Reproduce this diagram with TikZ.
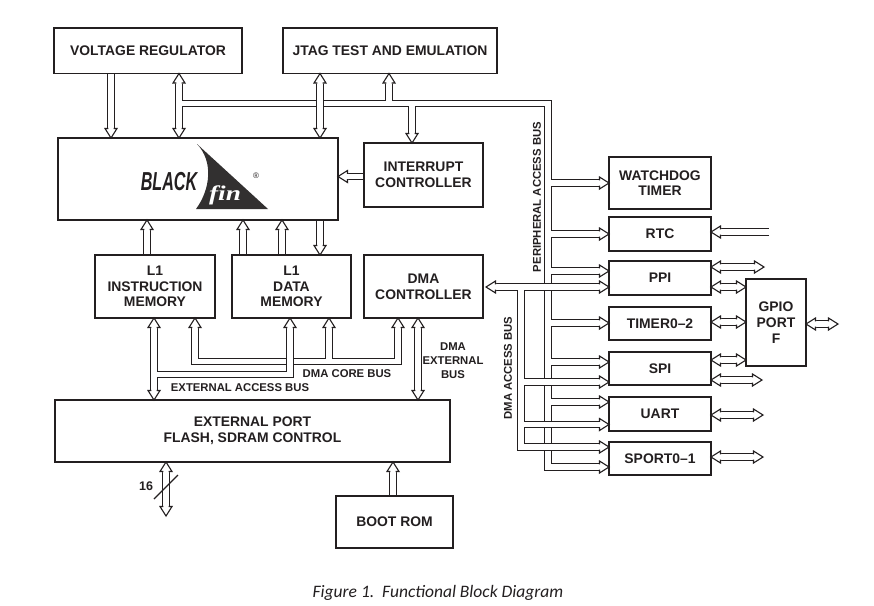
\documentclass[tikz,border=0pt]{standalone}
\usepackage{fontspec}
\setmainfont{Liberation Sans}
\newfontfamily\capfont{Carlito}
\newfontfamily\finfont{Liberation Serif}
\usetikzlibrary{calc}
\definecolor{ink}{RGB}{35,31,32}
\definecolor{fincol}{RGB}{50,48,48}
\tikzset{
  box/.style={rectangle, inner sep=0pt, outer sep=0pt, align=center, text=ink,
              font=\fontsize{13.9}{15.7}\selectfont\bfseries},
  boxline/.style={draw=ink, line width=1.2pt},
  lbl/.style={inner sep=0pt, text=ink, align=center, font=\fontsize{11.3}{14}\selectfont\bfseries},
  bo/.style={draw=ink, line width=7.6pt, line join=miter, line cap=butt},
  bi/.style={draw=white, line width=5.4pt, line join=miter, line cap=butt},
  bpass/.style={},
  tipE/.style={shorten >=9.5pt},
  tipB/.style={shorten >=9.5pt, shorten <=9.5pt},
  hd/.style={draw=ink, line width=1.1pt, line join=miter, line cap=butt},
  hR/.pic={\fill[white] (0,0)--(-10,-6.3)--(-10,6.3)--cycle;
           \draw[hd] (-9.5,-2.7)--(-9.5,-6)--(0,0)--(-9.5,6)--(-9.5,2.7);},
  hL/.pic={\fill[white] (0,0)--(10,-6.3)--(10,6.3)--cycle;
           \draw[hd] (9.5,-2.7)--(9.5,-6)--(0,0)--(9.5,6)--(9.5,2.7);},
  hD/.pic={\fill[white] (0,0)--(-6.3,-10)--(6.3,-10)--cycle;
           \draw[hd] (-2.7,-9.5)--(-6,-9.5)--(0,0)--(6,-9.5)--(2.7,-9.5);},
  hU/.pic={\fill[white] (0,0)--(-6.3,10)--(6.3,10)--cycle;
           \draw[hd] (-2.7,9.5)--(-6,9.5)--(0,0)--(6,9.5)--(2.7,9.5);},
}
% ---------- lower layer of buses and arrows ----------
\newcommand\layerA{%
  \draw[bpass,tipE] (111,0 |- vr.south) -- (111,0 |- bf.north);
  \draw[bpass,tipB] (179,0 |- vr.south) -- (179,0 |- bf.north);
  \draw[bpass,tipE] (179,103.5) -- (548,103.5) -- (548,467) -- (sport.west |- 0,467);
  \draw[bpass,tipE] (389,103.5) -- (389,0 |- jtag.south);
  \draw[bpass,tipE] (412,103.5) -- (412,0 |- ic.north);
  \foreach \yy/\nn in {183/wd,234/rtc,271/ppi,323/tmr,362/spi,402/uart}
    \draw[bpass,tipE] (548,\yy) -- (\nn.west |- 0,\yy);
  \draw[bpass,tipE] (ic.west |- 0,176.5) -- (bf.east |- 0,176.5);
  \draw[bpass,tipE] (147,0 |- l1i.north) -- (147,0 |- bf.south);
  \foreach \xx in {243,282}
    \draw[bpass,tipE] (\xx,0 |- l1d.north) -- (\xx,0 |- bf.south);
  \draw[bpass,tipE] (320,0 |- bf.south) -- (320,0 |- l1d.north);
  \draw[bpass,tipB] (195,0 |- l1i.south) -- (195,361.5) -- (398,361.5) -- (398,0 |- dma.south);
  \draw[bpass,tipE] (329,361.5) -- (329,0 |- l1d.south);
  \draw[bpass,tipB] (418,0 |- dma.south) -- (418,0 |- ep.north);
  \draw[bpass,tipB] (166,0 |- ep.south) -- (166,516);
  \draw[bpass,tipE] (393,0 |- boot.north) -- (393,0 |- ep.south);
  \draw[bpass,tipE] (769,232) -- (rtc.east |- 0,232);
  \draw[bpass,tipB] (ppi.east |- 0,267) -- (764,267);
  \draw[bpass,tipB] (ppi.east |- 0,287) -- (gpio.west |- 0,287);
  \draw[bpass,tipB] (tmr.east |- 0,322) -- (gpio.west |- 0,322);
  \draw[bpass,tipB] (gpio.east |- 0,324) -- (838,324);
  \draw[bpass,tipB] (spi.east |- 0,360) -- (gpio.west |- 0,360);
  \draw[bpass,tipB] (spi.east |- 0,380) -- (762,380);
  \draw[bpass,tipB] (uart.east |- 0,415) -- (763,415);
  \draw[bpass,tipB] (sport.east |- 0,457) -- (763,457);
}
\newcommand\headsA{%
  \pic at (111,0 |- bf.north) {hD};
  \pic at (179,0 |- vr.south) {hU};
  \pic at (179,0 |- bf.north) {hD};
  \pic at (sport.west |- 0,467) {hR};
  \pic at (389,0 |- jtag.south) {hU};
  \pic at (412,0 |- ic.north) {hD};
  \foreach \yy/\nn in {183/wd,234/rtc,271/ppi,323/tmr,362/spi,402/uart}
    \pic at (\nn.west |- 0,\yy) {hR};
  \pic at (bf.east |- 0,176.5) {hL};
  \pic at (147,0 |- bf.south) {hU};
  \foreach \xx in {243,282} \pic at (\xx,0 |- bf.south) {hU};
  \pic at (320,0 |- l1d.north) {hD};
  \pic at (195,0 |- l1i.south) {hU};
  \pic at (398,0 |- dma.south) {hU};
  \pic at (329,0 |- l1d.south) {hU};
  \pic at (418,0 |- dma.south) {hU};
  \pic at (418,0 |- ep.north) {hD};
  \pic at (166,0 |- ep.south) {hU};
  \pic at (166,516) {hD};
  \pic at (393,0 |- ep.south) {hU};
  \pic at (rtc.east |- 0,232) {hL};
  \pic at (ppi.east |- 0,267) {hL}; \pic at (764,267) {hR};
  \pic at (ppi.east |- 0,287) {hL}; \pic at (gpio.west |- 0,287) {hR};
  \pic at (tmr.east |- 0,322) {hL}; \pic at (gpio.west |- 0,322) {hR};
  \pic at (gpio.east |- 0,324) {hL}; \pic at (838,324) {hR};
  \pic at (spi.east |- 0,360) {hL}; \pic at (gpio.west |- 0,360) {hR};
  \pic at (spi.east |- 0,380) {hL}; \pic at (762,380) {hR};
  \pic at (uart.east |- 0,415) {hL}; \pic at (763,415) {hR};
  \pic at (sport.east |- 0,457) {hL}; \pic at (763,457) {hR};
}
% ---------- upper layer (crosses over the lower one) ----------
\newcommand\layerB{%
  \draw[bpass,tipB] (320,0 |- jtag.south) -- (320,0 |- bf.north);
  \draw[bpass,tipB] (154,0 |- l1i.south) -- (154,0 |- ep.north);
  \draw[bpass,tipE] (154,374.5) -- (290,374.5) -- (290,0 |- l1d.south);
  \draw[bpass,tipB] ($(dma.east |- 0,287)+(3,0)$) -- (ppi.west |- 0,287);
  \draw[bpass,tipE] (521,287) -- (521,447) -- (sport.west |- 0,447);
  \draw[bpass,tipE] (521,382) -- (spi.west |- 0,382);
  \draw[bpass,tipE] (521,424.5) -- (uart.west |- 0,424.5);
}
\newcommand\headsB{%
  \pic at (320,0 |- jtag.south) {hU};
  \pic at (320,0 |- bf.north) {hD};
  \pic at (154,0 |- l1i.south) {hU};
  \pic at (154,0 |- ep.north) {hD};
  \pic at (290,0 |- l1d.south) {hU};
  \pic at ($(dma.east |- 0,287)+(3,0)$) {hL};
  \pic at (ppi.west |- 0,287) {hR};
  \pic at (sport.west |- 0,447) {hR};
  \pic at (spi.west |- 0,382) {hR};
  \pic at (uart.west |- 0,424.5) {hR};
}
\begin{document}
\begin{tikzpicture}[x=1pt,y=-1pt]
\fill[white] (0,0) rectangle (874,605);
\useasboundingbox (0,0) rectangle (874,605);
% boxes
\node[box, minimum width=188pt, minimum height=45.5pt] (vr) at (148,50.75) {VOLTAGE REGULATOR};
\node[box, minimum width=214pt, minimum height=45.5pt] (jtag) at (390,50.75) {JTAG TEST AND EMULATION};
\node[box, minimum width=280pt, minimum height=82pt] (bf) at (198,179) {};
\node[box, minimum width=119pt, minimum height=64pt] (ic) at (423.5,175) {INTERRUPT\\CONTROLLER};
\node[box, minimum width=120pt, minimum height=63pt] (l1i) at (155,286.5) {L1\\INSTRUCTION\\MEMORY};
\node[box, minimum width=119pt, minimum height=63pt] (l1d) at (291.5,286.5) {L1\\DATA\\MEMORY};
\node[box, minimum width=119pt, minimum height=63pt] (dma) at (423.5,286.5) {DMA\\CONTROLLER};
\node[box, minimum width=395pt, minimum height=62pt] (ep) at (252.5,431) {EXTERNAL PORT\\FLASH, SDRAM CONTROL};
\node[box, minimum width=117pt, minimum height=52pt] (boot) at (394.5,522) {BOOT ROM};
\node[box, minimum width=102pt, minimum height=52pt] (wd) at (660,183) {WATCHDOG\\TIMER};
\node[box, minimum width=102pt, minimum height=34pt] (rtc) at (660,234) {RTC};
\node[box, minimum width=102pt, minimum height=34pt] (ppi) at (660,278) {PPI};
\node[box, minimum width=102pt, minimum height=33pt] (tmr) at (660,323.5) {TIMER0–2};
\node[box, minimum width=102pt, minimum height=33pt] (spi) at (660,368.5) {SPI};
\node[box, minimum width=102pt, minimum height=34pt] (uart) at (660,414) {UART};
\node[box, minimum width=102pt, minimum height=33pt] (sport) at (660,458.5) {SPORT0–1};
\node[box, minimum width=60pt, minimum height=87pt] (gpio) at (776,322.5) {GPIO\\PORT\\F};
% buses and arrows
\tikzset{bpass/.style=bo}\layerA
\tikzset{bpass/.style=bi}\layerA
\headsA
\tikzset{bpass/.style=bo}\layerB
\tikzset{bpass/.style=bi}\layerB
\headsB
% box outlines
\foreach \n in {vr,jtag,bf,ic,l1i,l1d,dma,ep,boot,wd,rtc,ppi,tmr,spi,uart,sport,gpio}
  \draw[boxline] (\n.south west) rectangle (\n.north east);
% Blackfin logo
\fill[fincol] (197,144) -- (268,209) -- (196,209) .. controls (210,190) and (214,162) .. (197,144) -- cycle;
\node[text=white, inner sep=0pt, font=\finfont\fontsize{21}{21}\selectfont\bfseries\itshape, xscale=1.3] (fin) at (225,195) {fin};
\node[text=ink, inner sep=0pt, font=\fontsize{26}{26}\selectfont\bfseries\itshape, xscale=0.62] (blk) at (169,182) {BLACK};
\node[text=ink, inner sep=0pt, font=\fontsize{8}{8}\selectfont] (reg) at (256,176) {\textregistered};
% bus labels
\node[lbl, rotate=90] (pab) at (537,197) {PERIPHERAL ACCESS BUS};
\node[lbl, rotate=90] (dab) at (508,368) {DMA ACCESS BUS};
\node[lbl] (dcb) at (347,374) {DMA CORE BUS};
\node[lbl] (eab) at (240,388) {EXTERNAL ACCESS BUS};
\node[lbl] (deb) at (453,361) {DMA\\EXTERNAL\\BUS};
\node[lbl, font=\fontsize{12.5}{14}\selectfont\bfseries] (w16) at (146,486) {16};
\draw[ink, line width=1.1pt] (154,499) -- (178,475);
% caption
\node[text=ink, inner sep=0pt, font=\capfont\fontsize{17.5}{20}\selectfont\itshape] (cap) at (438,593) {Figure 1.\ \ Functional Block Diagram};
\end{tikzpicture}
\end{document}
